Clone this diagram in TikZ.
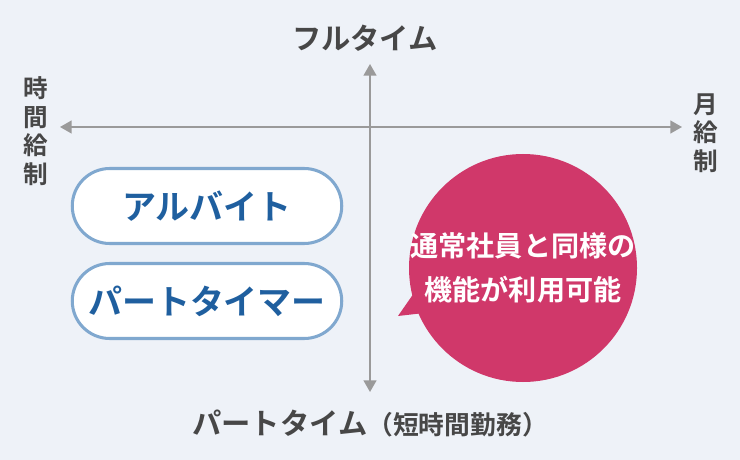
\documentclass[tikz,border=0pt]{standalone}
\usepackage{fontspec}
\setmainfont{Noto Sans CJK JP}[BoldFont={Noto Sans CJK JP Bold}]
\usetikzlibrary{arrows.meta}
\definecolor{bgcol}{HTML}{EEF2F8}
\definecolor{axiscol}{HTML}{9A9A9A}
\definecolor{labcol}{HTML}{474747}
\definecolor{framecol}{HTML}{80A8CF}
\definecolor{textblue}{HTML}{1F5F9F}
\definecolor{pinkcol}{HTML}{D0386A}
\tikzset{
  axis/.style={draw=axiscol, line width=1.6pt, -{Triangle[length=10pt,width=11pt]}},
  axislabel/.style={text=labcol, font=\bfseries\fontsize{25}{28}\selectfont},
  sidelabel/.style={text=labcol, align=center, font=\bfseries\fontsize{21}{24.5}\selectfont},
  kindbox/.style={draw=framecol, line width=2.6pt, fill=white, rounded corners=32pt,
    minimum width=230pt, minimum height=64pt, text=textblue,
    font=\bfseries\fontsize{29}{32}\selectfont},
  bubbletext/.style={text=white, align=center, font=\bfseries\fontsize{24}{37}\selectfont}
}
\begin{document}
\begin{tikzpicture}[x=0.03cm, y=-0.03cm]
\fill[bgcol] (0,0) rectangle (740,460);
\useasboundingbox (0,0) rectangle (740,460);

% axes
\coordinate (centre) at (370,127);
\coordinate (top) at (370,64);
\coordinate (bottom) at (370,392);
\coordinate (left) at (60,127);
\coordinate (right) at (682,127);
\draw[axis] (centre) -- (top);
\draw[axis] (centre) -- (bottom);
\draw[axis] (centre) -- (left);
\draw[axis] (centre) -- (right);

% axis labels
\node[axislabel] (full) at (365,38) {フルタイム};
\node[axislabel] (part) at (370,423) {パートタイム\fontsize{22}{26}\selectfont（短時間勤務）};
\node[sidelabel] (hourly) at (36,131) {時\\間\\給\\制};
\node[sidelabel] (monthly) at (706,133) {月\\給\\制};

% kinds of work
\node[kindbox] (arbeit) at (207,206) {アルバイト};
\node[kindbox] (parttimer) at (207,301) {パートタイマー};

% speech bubble
\fill[pinkcol] (523,268) circle[radius=114];
\fill[pinkcol] (430,270) -- (398,316) -- (450,310) -- cycle;
\node[bubbletext] (note) at (523,268) {通常社員と同様の\\機能が利用可能};
\end{tikzpicture}
\end{document}
